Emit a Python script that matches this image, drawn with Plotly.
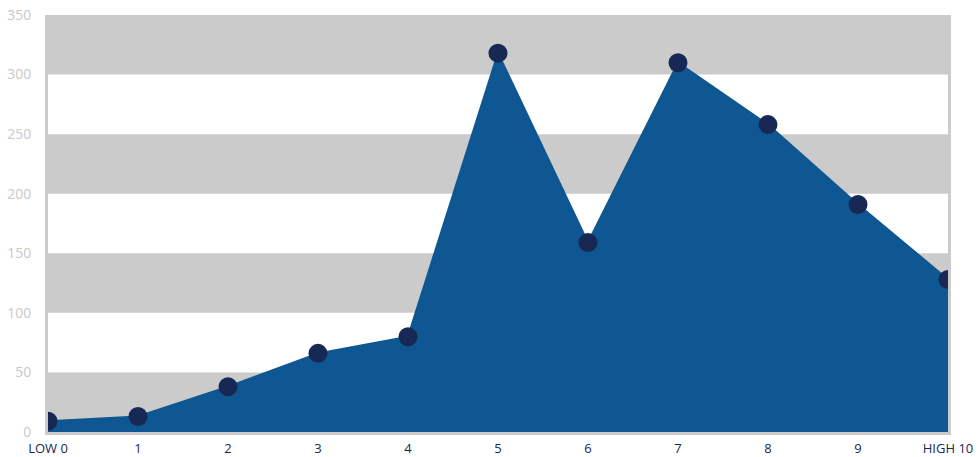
import plotly.graph_objects as go

x_vals = [0, 1, 2, 3, 4, 5, 6, 7, 8, 9, 10]
y_vals = [9, 13, 38, 66, 80, 318, 159, 310, 258, 191, 128]
x_tick_labels = ["LOW 0", "1", "2", "3", "4", "5", "6", "7", "8", "9", "HIGH 10"]
band_ranges = [(0, 50), (100, 150), (200, 250), (300, 350)]
y_ticks = [0, 50, 100, 150, 200, 250, 300, 350]

fig = go.Figure()
fig.add_trace(go.Scatter(
    x=x_vals, y=y_vals, mode="lines+markers", fill="tozeroy",
    fillcolor="#0e5792", line=dict(color="#0e5792", width=2),
    marker=dict(color="#172854", size=19),
    cliponaxis=True, hoverinfo="x+y",
))
shapes = []
for lo, hi in band_ranges:
    shapes.append(dict(type="rect", xref="paper", yref="y", x0=0, x1=1, y0=lo, y1=hi,
                       fillcolor="#cbcbcb", line=dict(width=0), layer="below"))
fig.update_layout(
    width=979, height=457,
    margin=dict(l=48, r=31, t=15, b=25),
    paper_bgcolor="white", plot_bgcolor="white",
    showlegend=False, shapes=shapes,
    font=dict(family="Open Sans, sans-serif"),
    xaxis=dict(range=[0, 10], tickvals=x_vals, ticktext=x_tick_labels, automargin=False,
               showgrid=False, zeroline=False, showline=True, linecolor="#cbcbcb", linewidth=3,
               tickfont=dict(color="#172854", size=13), ticks="", ticklabelstandoff=2),
    yaxis=dict(range=[0, 350], tickvals=y_ticks, showgrid=False, zeroline=False, automargin=False,
               showline=True, mirror=True, linecolor="#cbcbcb", linewidth=3,
               tickfont=dict(color="#c8c8c8", size=14), ticks="", ticklabelstandoff=11),
)
fig.write_html("out.html", config={"displayModeBar": False})

with open("out.html", "r", encoding="utf-8") as f:
    html = f.read()
html = html.replace("<head>", "<head><style>html,body{margin:0;padding:0;overflow:hidden;}</style>", 1)
with open("out.html", "w", encoding="utf-8") as f:
    f.write(html)
